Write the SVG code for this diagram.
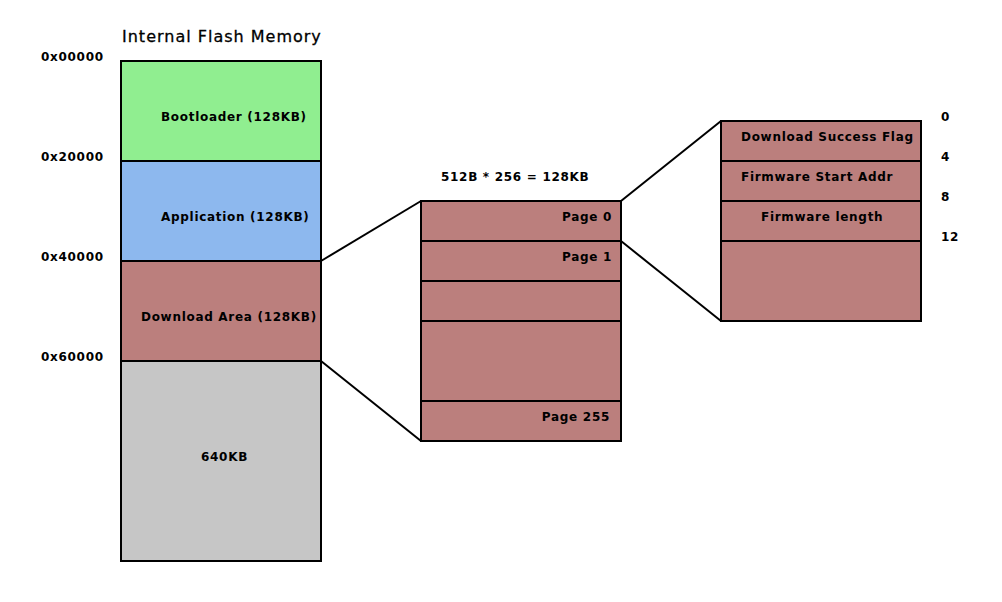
<svg xmlns="http://www.w3.org/2000/svg" width="1002" height="602" viewBox="0 0 1002 602">
<style>
.b{stroke:#000;stroke-width:2}
.t{font-family:"DejaVu Sans",sans-serif;font-size:12px;font-weight:bold;letter-spacing:0.7px;fill:#000}
.h{font-family:"DejaVu Sans",sans-serif;font-size:16px;letter-spacing:1px;fill:#000;stroke:#000;stroke-width:0.3px}
.r{fill:#bb7f7d}
.c{stroke:#000;stroke-width:2;fill:none}
</style>
<rect width="1002" height="602" fill="#fff"/>
<text class="h" x="122" y="42">Internal Flash Memory</text>
<g id="addresses">
<text class="t" x="41" y="61">0x00000</text>
<text class="t" x="41" y="161">0x20000</text>
<text class="t" x="41" y="261">0x40000</text>
<text class="t" x="41" y="361">0x60000</text>
</g>
<g id="bootloader"><rect class="b" x="121" y="61" width="200" height="100" fill="#90ee90"/><text class="t" x="161" y="121">Bootloader (128KB)</text></g>
<g id="application"><rect class="b" x="121" y="161" width="200" height="100" fill="#8db8ee"/><text class="t" x="161" y="221">Application (128KB)</text></g>
<g id="download"><rect class="b r" x="121" y="261" width="200" height="100"/><text class="t" x="141" y="321">Download Area (128KB)</text></g>
<g id="rest"><rect class="b" x="121" y="361" width="200" height="200" fill="#c6c6c6"/><text class="t" x="201" y="461">640KB</text></g>
<text class="t" x="441" y="181">512B * 256 = 128KB</text>
<g id="page0"><rect class="b r" x="421" y="201" width="200" height="40"/><text class="t" x="612" y="221" text-anchor="end">Page 0</text></g>
<g id="page1"><rect class="b r" x="421" y="241" width="200" height="40"/><text class="t" x="612" y="261" text-anchor="end">Page 1</text></g>
<g id="page2"><rect class="b r" x="421" y="281" width="200" height="40"/></g>
<g id="pages"><rect class="b r" x="421" y="321" width="200" height="80"/></g>
<g id="page255"><rect class="b r" x="421" y="401" width="200" height="40"/><text class="t" x="610" y="421" text-anchor="end">Page 255</text></g>
<g id="flag"><rect class="b r" x="721" y="121" width="200" height="40"/><text class="t" x="741" y="141">Download Success Flag</text></g>
<g id="startaddr"><rect class="b r" x="721" y="161" width="200" height="40"/><text class="t" x="741" y="181">Firmware Start Addr</text></g>
<g id="length"><rect class="b r" x="721" y="201" width="200" height="40"/><text class="t" x="761" y="221">Firmware length</text></g>
<g id="restpage"><rect class="b r" x="721" y="241" width="200" height="80"/></g>
<g id="offsets">
<text class="t" x="941" y="121">0</text>
<text class="t" x="941" y="161">4</text>
<text class="t" x="941" y="201">8</text>
<text class="t" x="941" y="241">12</text>
</g>
<g id="connectors">
<line class="c" x1="321" y1="261" x2="421" y2="201"/>
<line class="c" x1="321" y1="361" x2="421" y2="441"/>
<line class="c" x1="621" y1="201" x2="721" y2="121"/>
<line class="c" x1="621" y1="241" x2="721" y2="321"/>
</g>
</svg>
